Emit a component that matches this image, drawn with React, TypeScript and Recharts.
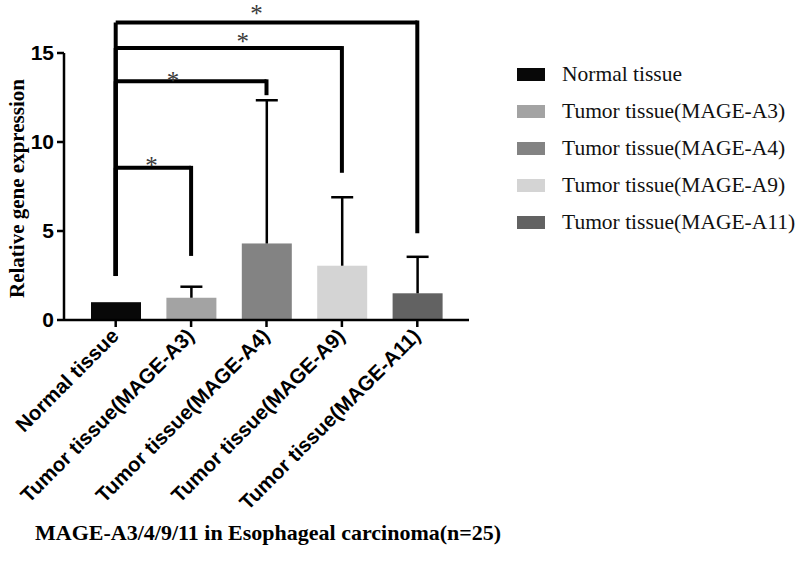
import { Bar, BarChart, Cell, ReferenceLine, XAxis, YAxis } from "recharts";

// categories and values
const groups = [
  "Normal tissue",
  "Tumor tissue(MAGE-A3)",
  "Tumor tissue(MAGE-A4)",
  "Tumor tissue(MAGE-A9)",
  "Tumor tissue(MAGE-A11)",
];
const means = [1.0, 1.25, 4.3, 3.05, 1.5];
const sds = [0, 0.62, 8.05, 3.85, 2.05];
const colors = ["#080808", "#a3a3a3", "#838383", "#d4d4d4", "#626262"];
const yTicks = [0, 5, 10, 15];

// significance brackets: from Normal tissue to group, bracket height, drop ends
const bracketTo = [1, 2, 3, 4];
const bracketY = [8.55, 13.41, 15.28, 16.72];
const bracketLeftEnd = [2.47, 2.47, 2.47, 2.47];
const bracketRightEnd = [3.6, 12.63, 8.27, 4.88];

// nudges for the asterisks (px), layout only
const starNudge = [
  { dx: -2, dy: 6 },
  { dx: -18, dy: 8 },
  { dx: 14, dy: 2 },
  { dx: -10, dy: 0 },
];

const data = groups.map((name, i) => ({ name, value: means[i], sd: sds[i] }));

const sans = "'Liberation Sans', Arial, sans-serif";
const serif = "'Liberation Serif', 'Times New Roman', serif";

function BarWithError(props: any) {
  const { x, y, width, height, fill, payload } = props;
  const perUnit = payload.value ? height / payload.value : 0;
  const top = y - payload.sd * perUnit;
  const cx = x + width / 2;
  return (
    <g>
      <rect x={x} y={y} width={width} height={height} fill={fill} />
      {payload.sd > 0 && (
        <g stroke="#000" strokeWidth={2.5}>
          <line x1={cx} x2={cx} y1={y} y2={top} />
          <line x1={cx - 11} x2={cx + 11} y1={top} y2={top} />
        </g>
      )}
    </g>
  );
}

function YLabel({ viewBox }: any) {
  const x = viewBox.x + 17;
  const y = viewBox.y + viewBox.height / 2 + 2;
  return (
    <text
      x={x}
      y={y}
      transform={`rotate(-90, ${x}, ${y})`}
      textAnchor="middle"
      dominantBaseline="central"
      fontFamily={serif}
      fontWeight="bold"
      fontSize={21}
      fill="#000"
    >
      Relative gene expression
    </text>
  );
}

export default function App() {
  return (
    <div style={{ position: "absolute", left: 0, top: 0, width: 800, height: 563, background: "#fff" }}>
      <BarChart
        width={800}
        height={563}
        data={data}
        margin={{ top: 53, right: 331, bottom: 43, left: 0 }}
        barSize={50}
      >
        <XAxis
          dataKey="name"
          height={200}
          interval={0}
          padding={{ left: 14, right: 14 }}
          axisLine={{ stroke: "#000", strokeWidth: 2.5 }}
          tickLine={{ stroke: "#000", strokeWidth: 2.5 }}
          tickSize={7}
          tickMargin={0}
          tick={{ angle: -45, textAnchor: "end", fontFamily: sans, fontWeight: "bold", fontSize: 20.5, fill: "#000", dx: -6 }}
        />
        <YAxis
          width={64}
          domain={[0, 15]}
          ticks={yTicks}
          allowDataOverflow
          axisLine={{ stroke: "#000", strokeWidth: 2.5 }}
          tickLine={{ stroke: "#000", strokeWidth: 2.5 }}
          tickSize={7}
          tickMargin={3}
          tick={{ fontFamily: sans, fontWeight: "bold", fontSize: 21, fill: "#000" }}
          label={<YLabel />}
        />
        <Bar dataKey="value" isAnimationActive={false} shape={<BarWithError />}>
          {data.map((d, i) => (
            <Cell key={d.name} fill={colors[i]} />
          ))}
        </Bar>
        {bracketTo.map((to, i) => (
          <ReferenceLine
            key={`l${i}`}
            ifOverflow="visible"
            stroke="#000"
            strokeWidth={4}
            segment={[
              { x: groups[0], y: bracketLeftEnd[i] },
              { x: groups[0], y: bracketY[i] },
            ]}
          />
        ))}
        {bracketTo.map((to, i) => (
          <ReferenceLine
            key={`h${i}`}
            ifOverflow="visible"
            stroke="#000"
            strokeWidth={4}
            segment={[
              { x: groups[0], y: bracketY[i] },
              { x: groups[to], y: bracketY[i] },
            ]}
            label={{
              value: "*",
              position: "top",
              offset: 0,
              dx: starNudge[i].dx,
              dy: starNudge[i].dy,
              fill: "#3a3a3a",
              fontSize: 25,
              fontFamily: serif,
            }}
          />
        ))}
        {bracketTo.map((to, i) => (
          <ReferenceLine
            key={`r${i}`}
            ifOverflow="visible"
            stroke="#000"
            strokeWidth={4}
            segment={[
              { x: groups[to], y: bracketY[i] + 0.11 },
              { x: groups[to], y: bracketRightEnd[i] },
            ]}
          />
        ))}
      </BarChart>
      <div style={{ position: "absolute", left: 517, top: 56 }}>
        {groups.map((g, i) => (
          <div key={g} style={{ display: "flex", alignItems: "center", height: 37 }}>
            <div style={{ width: 28, height: 13, background: colors[i], marginRight: 17 }} />
            <span style={{ fontFamily: serif, fontSize: 21.5, color: "#111", whiteSpace: "nowrap" }}>{g}</span>
          </div>
        ))}
      </div>
      <div
        style={{
          position: "absolute",
          left: 35,
          top: 520,
          fontFamily: serif,
          fontWeight: "bold",
          fontSize: 22,
          color: "#000",
          whiteSpace: "nowrap",
        }}
      >
        MAGE-A3/4/9/11 in Esophageal carcinoma(n=25)
      </div>
    </div>
  );
}
